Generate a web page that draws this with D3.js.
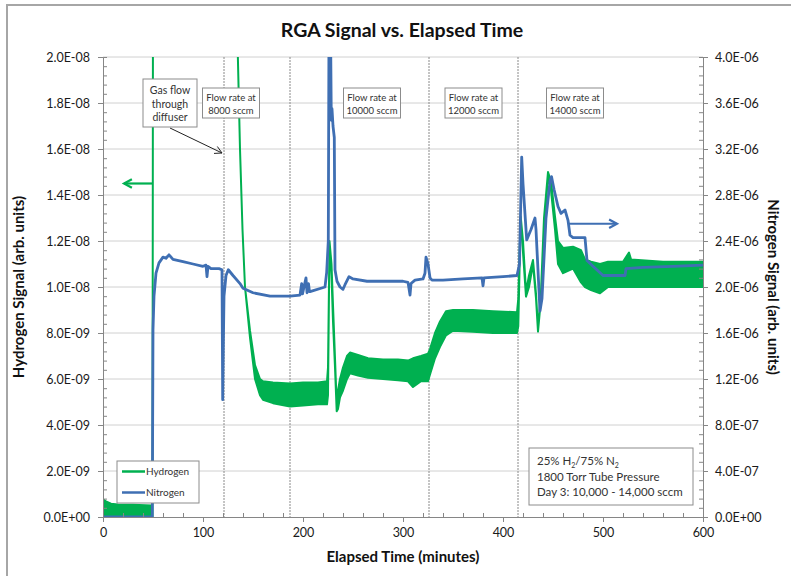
<!DOCTYPE html>
<html>
<head>
<meta charset="utf-8">
<script src="https://cdn.jsdelivr.net/npm/d3@7/dist/d3.min.js"></script>
<style>
  html, body { margin: 0; padding: 0; background: #fff; }
  svg { display: block; font-family: Lato, "Open Sans", sans-serif; }
</style>
</head>
<body>
<svg id="chart" width="791" height="576"></svg>
<script>
// ---- Hydrogen signal (left axis): time in minutes, lower / upper edge of the noisy trace
const h2Time = [0, 3, 8, 15, 30, 49, 49.5, 50, 134.5, 134.6, 137, 139.5, 142, 147, 152, 157, 160, 170, 187, 200, 215, 224,
  225, 226.5, 228.5, 230, 232, 233.7, 235, 237, 240, 244, 247, 255, 265, 280, 295, 305, 310, 318, 325,
  327, 332, 337, 343, 350, 370, 390, 414, 415.3, 417.7, 420, 423, 426, 430, 433, 435, 438, 441, 445, 448,
  452, 455, 460, 470, 478, 482, 488, 497, 505, 520, 526, 528, 560, 600];
const h2Low = [0, 0, 0, 0, 0, 0, 0, 2.4e-8, 2.4e-8, 2.05e-8, 1.6e-8, 1.25e-8, 1.0e-8, 7.8e-9, 6.0e-9, 5.3e-9, 5.1e-9, 4.95e-9, 4.8e-9, 4.85e-9, 4.9e-9, 4.9e-9,
  5.3e-9, 1.2e-8, 1.05e-8, 8.5e-9, 6.5e-9, 4.6e-9, 4.7e-9, 5.2e-9, 5.5e-9, 6.0e-9, 6.25e-9, 6.15e-9, 6.05e-9, 6.0e-9, 5.95e-9, 5.9e-9, 5.65e-9, 5.9e-9, 5.9e-9,
  6.2e-9, 6.9e-9, 7.4e-9, 7.9e-9, 8.1e-9, 8.05e-9, 8.0e-9, 8.0e-9, 8.3e-9, 1.306e-8, 1.15e-8, 9.58e-9, 1.0e-8, 1.1e-8, 9.5e-9, 8.06e-9, 9.5e-9, 1.25e-8, 1.48e-8, 1.42e-8,
  1.25e-8, 1.1e-8, 1.06e-8, 1.08e-8, 1.02e-8, 1.0e-8, 9.87e-9, 9.73e-9, 1.0e-8, 1.0e-8, 1.0e-8, 1.0e-8, 1.0e-8, 1.0e-8];
const h2High = [7.7e-10, 6.8e-10, 5.8e-10, 5.4e-10, 5.3e-10, 5.0e-10, 5.0e-10, 2.4e-8, 2.4e-8, 2.05e-8, 1.6e-8, 1.25e-8, 1.0e-8, 8.1e-9, 6.6e-9, 6.0e-9, 5.9e-9, 5.85e-9, 5.8e-9, 5.85e-9, 5.85e-9, 5.9e-9,
  6.5e-9, 1.2e-8, 1.1e-8, 9.2e-9, 6.9e-9, 4.9e-9, 5.5e-9, 6.0e-9, 6.5e-9, 7.0e-9, 7.15e-9, 7.05e-9, 6.9e-9, 6.85e-9, 6.85e-9, 6.8e-9, 6.9e-9, 7.0e-9, 7.1e-9,
  7.3e-9, 8.0e-9, 8.5e-9, 8.95e-9, 9.0e-9, 9.0e-9, 8.95e-9, 8.9e-9, 9.5e-9, 1.306e-8, 1.2e-8, 9.8e-9, 1.05e-8, 1.117e-8, 9.7e-9, 8.2e-9, 9.8e-9, 1.3e-8, 1.5e-8, 1.46e-8,
  1.306e-8, 1.2e-8, 1.17e-8, 1.175e-8, 1.16e-8, 1.12e-8, 1.11e-8, 1.1e-8, 1.11e-8, 1.11e-8, 1.15e-8, 1.12e-8, 1.11e-8, 1.11e-8];

// ---- Nitrogen signal (right axis)
const n2Time = [0, 49.3, 50, 51, 53, 56, 60, 63, 66, 70, 80, 90, 100, 103, 104, 105, 108, 116, 119, 119.7, 120.5, 121, 123, 125.3, 130, 137, 140, 150,
  167, 187, 197, 198.7, 199.5, 203, 204, 205.5, 206.5, 207, 222, 223.7, 225.3, 226, 227.5, 228.3, 229, 230, 231.3, 232, 234, 237, 240, 242, 246, 250, 264,
  300, 305, 307, 308, 312, 320, 322, 323, 325, 327, 329, 340, 360, 379, 380, 381, 400, 414, 416.5, 418.7, 420, 423.7, 428, 432, 433, 437, 439, 443, 447, 448.5,
  451, 455, 458, 462, 465, 467, 470, 482, 484, 490, 500, 522, 523, 540, 570, 600];
const n2Value = [0, 0, 1.63e-6, 1.92e-6, 2.12e-6, 2.21e-6, 2.26e-6, 2.25e-6, 2.28e-6, 2.24e-6, 2.22e-6, 2.2e-6, 2.18e-6, 2.19e-6, 2.09e-6, 2.18e-6, 2.16e-6, 2.16e-6, 2.15e-6, 1.02e-6, 1.6e-6, 1.92e-6, 2.1e-6, 2.15e-6, 2.1e-6, 2.03e-6, 1.99e-6, 1.95e-6,
  1.92e-6, 1.92e-6, 1.93e-6, 2.03e-6, 1.94e-6, 2.08e-6, 1.95e-6, 2.03e-6, 1.96e-6, 1.96e-6, 2.0e-6, 2.13e-6, 2.4e-6, 4.3e-6, 4.3e-6, 3.45e-6, 3.55e-6, 3.4e-6, 3.3e-6, 2.15e-6, 2.05e-6, 2.0e-6, 1.98e-6, 2.02e-6, 2.09e-6, 2.07e-6, 2.05e-6,
  2.05e-6, 2.04e-6, 1.93e-6, 2.03e-6, 2.06e-6, 2.07e-6, 2.12e-6, 2.26e-6, 2.2e-6, 2.08e-6, 2.06e-6, 2.06e-6, 2.07e-6, 2.08e-6, 2.01e-6, 2.08e-6, 2.09e-6, 2.1e-6, 2.2e-6, 3.13e-6, 2.9e-6, 2.41e-6, 2.5e-6, 2.6e-6, 2.5e-6, 1.79e-6, 1.9e-6, 2.6e-6, 2.92e-6, 2.96e-6,
  2.85e-6, 2.7e-6, 2.64e-6, 2.67e-6, 2.58e-6, 2.45e-6, 2.43e-6, 2.43e-6, 2.23e-6, 2.18e-6, 2.1e-6, 2.1e-6, 2.16e-6, 2.17e-6, 2.18e-6, 2.19e-6];

// ---- Axes
const xTicks = [0, 100, 200, 300, 400, 500, 600];
const leftTicks = [0, 2e-9, 4e-9, 6e-9, 8e-9, 1.0e-8, 1.2e-8, 1.4e-8, 1.6e-8, 1.8e-8, 2.0e-8];
const rightTicks = [0, 4e-7, 8e-7, 1.2e-6, 1.6e-6, 2.0e-6, 2.4e-6, 2.8e-6, 3.2e-6, 3.6e-6, 4.0e-6];
const flowMarks = [121, 187, 326, 415];

// ---- Annotations
const flowNotes = [
  { t: 128, lines: ["Flow rate at", "8000 sccm"] },
  { t: 269, lines: ["Flow rate at", "10000 sccm"] },
  { t: 370.5, lines: ["Flow  rate at", "12000 sccm"] },
  { t: 472, lines: ["Flow rate at", "14000 sccm"] }
];
const infoLines = ["25% H|2|/75% N|2|", "1800 Torr Tube Pressure", "Day 3: 10,000 - 14,000 sccm"];

const green = "#00b050", blue = "#3f6fb3";
const svg = d3.select("#chart");
const W = 791, H = 576;
const plot = { left: 103, right: 703, top: 57, bottom: 517 };

const x = d3.scaleLinear().domain([0, 600]).range([plot.left, plot.right]);
const yL = d3.scaleLinear().domain([0, 2e-8]).range([plot.bottom, plot.top]);
const yR = d3.scaleLinear().domain([0, 4e-6]).range([plot.bottom, plot.top]);

function sci(v) {
  if (v === 0) return "0.0E+00";
  let e = Math.floor(Math.log10(v) + 1e-9);
  let m = v / Math.pow(10, e);
  if (m.toFixed(1) === "10.0") { m /= 10; e += 1; }
  return m.toFixed(1) + "E" + (e < 0 ? "-" : "+") + String(Math.abs(e)).padStart(2, "0");
}

// outer frame
svg.append("path").attr("d", `M7,${H + 5} V5 H${W + 5}`).attr("fill", "none")
  .attr("stroke", "#a6a6a6").attr("stroke-width", 2);

// title
svg.append("text").attr("x", 402).attr("y", 37).attr("text-anchor", "middle")
  .attr("font-size", 19.5).attr("font-weight", "bold").attr("fill", "#111")
  .text("RGA Signal vs. Elapsed Time");

// horizontal gridlines
svg.append("g").selectAll("line").data(leftTicks.filter(d => d > 0)).join("line")
  .attr("x1", plot.left).attr("x2", plot.right)
  .attr("y1", d => yL(d)).attr("y2", d => yL(d))
  .attr("stroke", "#d0d0d0").attr("stroke-width", 1);

// vertical markers for flow-rate changes
svg.append("g").selectAll("line").data(flowMarks).join("line")
  .attr("x1", d => x(d)).attr("x2", d => x(d))
  .attr("y1", plot.top).attr("y2", plot.bottom)
  .attr("stroke", "#8a8a8a").attr("stroke-width", 1).attr("stroke-dasharray", "2,1");

// clip to plot area
svg.append("clipPath").attr("id", "clip").append("rect")
  .attr("x", plot.left).attr("y", plot.top).attr("width", plot.right - plot.left).attr("height", plot.bottom - plot.top);

const h2 = h2Time.map((t, i) => ({ t, lo: h2Low[i], hi: h2High[i] }));
const n2 = n2Time.map((t, i) => ({ t, v: n2Value[i] }));

const series = svg.append("g").attr("clip-path", "url(#clip)");
series.append("path").datum(h2)
  .attr("d", d3.area().x(d => x(d.t)).y0(d => yL(d.lo)).y1(d => yL(d.hi)))
  .attr("fill", green).attr("stroke", green).attr("stroke-width", 2).attr("stroke-linejoin", "round");
series.append("path").datum(n2)
  .attr("d", d3.line().x(d => x(d.t)).y(d => yR(d.v)))
  .attr("fill", "none").attr("stroke", blue).attr("stroke-width", 2.8).attr("stroke-linejoin", "round");

// axes
const axisColor = "#868686";
function styleAxis(g) {
  g.select(".domain").attr("stroke", axisColor);
  g.selectAll(".tick line").attr("stroke", axisColor);
  g.selectAll(".tick text").attr("fill", "#1a1a1a").attr("font-size", 12.5);
  g.attr("font-family", null);
}
function minorVals(major, n) {
  const out = [];
  for (let i = 0; i < major.length - 1; i++)
    for (let k = 1; k < n; k++) out.push(major[i] + (major[i + 1] - major[i]) * k / n);
  return out;
}

// left
svg.append("g").attr("transform", `translate(${plot.left},0)`)
  .call(d3.axisLeft(yL).tickValues(minorVals(leftTicks, 5)).tickSize(-4).tickFormat(""))
  .call(styleAxis);
svg.append("g").attr("transform", `translate(${plot.left},0)`)
  .call(d3.axisLeft(yL).tickValues(leftTicks).tickSize(5).tickPadding(8).tickFormat(sci))
  .call(styleAxis);
// right
svg.append("g").attr("transform", `translate(${plot.right},0)`)
  .call(d3.axisRight(yR).tickValues(minorVals(rightTicks, 5)).tickSize(-4).tickFormat(""))
  .call(styleAxis);
svg.append("g").attr("transform", `translate(${plot.right},0)`)
  .call(d3.axisRight(yR).tickValues(rightTicks).tickSize(5).tickPadding(7).tickFormat(sci))
  .call(styleAxis);
// bottom
svg.append("g").attr("transform", `translate(0,${plot.bottom})`)
  .call(d3.axisBottom(x).tickValues(minorVals(xTicks, 5)).tickSize(-4).tickFormat(""))
  .call(styleAxis);
svg.append("g").attr("transform", `translate(0,${plot.bottom})`)
  .call(d3.axisBottom(x).tickValues(xTicks).tickSize(5).tickPadding(6).tickFormat(d3.format("d")))
  .call(styleAxis);

// axis titles
svg.append("text").attr("x", 403).attr("y", 562).attr("text-anchor", "middle")
  .attr("font-size", 15).attr("font-weight", "bold").attr("fill", "#111").text("Elapsed Time (minutes)");
svg.append("text").attr("transform", "translate(24,287) rotate(-90)").attr("text-anchor", "middle")
  .attr("font-size", 15).attr("font-weight", "bold").attr("fill", "#111").text("Hydrogen Signal (arb. units)");
svg.append("text").attr("transform", "translate(768,287) rotate(90)").attr("text-anchor", "middle")
  .attr("font-size", 15).attr("font-weight", "bold").attr("fill", "#111").text("Nitrogen Signal (arb. units)");

// arrows marking which axis each series uses
function arrow(g, x1, y1, x2, y2, color, width, head) {
  const a = Math.atan2(y2 - y1, x2 - x1), s = 0.5;
  g.append("line").attr("x1", x1).attr("y1", y1).attr("x2", x2).attr("y2", y2)
    .attr("stroke", color).attr("stroke-width", width);
  const p1 = [x2 - head * Math.cos(a - s), y2 - head * Math.sin(a - s)];
  const p2 = [x2 - head * Math.cos(a + s), y2 - head * Math.sin(a + s)];
  g.append("path").attr("d", `M${p1}L${x2},${y2}L${p2}`).attr("fill", "none")
    .attr("stroke", color).attr("stroke-width", width).attr("stroke-linejoin", "miter");
}
const ann = svg.append("g");
arrow(ann, x(49), yL(1.45e-8), x(21), yL(1.45e-8), green, 2.2, 9);
arrow(ann, x(466), yR(2.55e-6), x(514), yR(2.55e-6), blue, 2.2, 9);
arrow(ann, 170, 128, 222, 153, "#222", 1, 8);

// annotation boxes
function noteBox(cx, top, w, h, lines, size, lineGap, firstY) {
  const g = svg.append("g");
  g.append("rect").attr("x", cx - w / 2).attr("y", top).attr("width", w).attr("height", h)
    .attr("fill", "#fff").attr("stroke", "#8c8c8c").attr("stroke-width", 1);
  g.selectAll("text").data(lines).join("text")
    .attr("x", cx).attr("y", (d, i) => top + firstY + i * lineGap)
    .attr("text-anchor", "middle").attr("font-size", size).attr("fill", "#333").text(d => d);
}
noteBox(x(67), 79, 54, 48, ["Gas flow", "through", "diffuser"], 10.5, 13.5, 15);
flowNotes.forEach(n => noteBox(x(n.t), 88, 57, 30, n.lines, 9.5, 13, 12.5));

// legend
const leg = svg.append("g");
leg.append("rect").attr("x", 117).attr("y", 461).attr("width", 82).attr("height", 42)
  .attr("fill", "#fff").attr("stroke", "#8c8c8c");
[["Hydrogen", green, 471.5], ["Nitrogen", blue, 492.5]].forEach(([name, c, yy]) => {
  leg.append("line").attr("x1", 122).attr("x2", 145).attr("y1", yy).attr("y2", yy)
    .attr("stroke", c).attr("stroke-width", 2.5);
  leg.append("text").attr("x", 146).attr("y", yy + 3.5).attr("font-size", 10).attr("fill", "#333").text(name);
});

// experiment conditions
const info = svg.append("g");
info.append("rect").attr("x", 529).attr("y", 448).attr("width", 164).attr("height", 57)
  .attr("fill", "#fff").attr("stroke", "#8c8c8c");
infoLines.forEach((ln, i) => {
  const t = info.append("text").attr("x", 537).attr("y", 465 + i * 15.5).attr("font-size", 11.5).attr("fill", "#333");
  ln.split("|").forEach((part, k) => {
    const sp = t.append("tspan").text(part);
    if (k % 2 === 1) sp.attr("font-size", 7).attr("dy", 3);
    else if (k > 0) sp.attr("dy", -3);
  });
});
</script>
</body>
</html>
